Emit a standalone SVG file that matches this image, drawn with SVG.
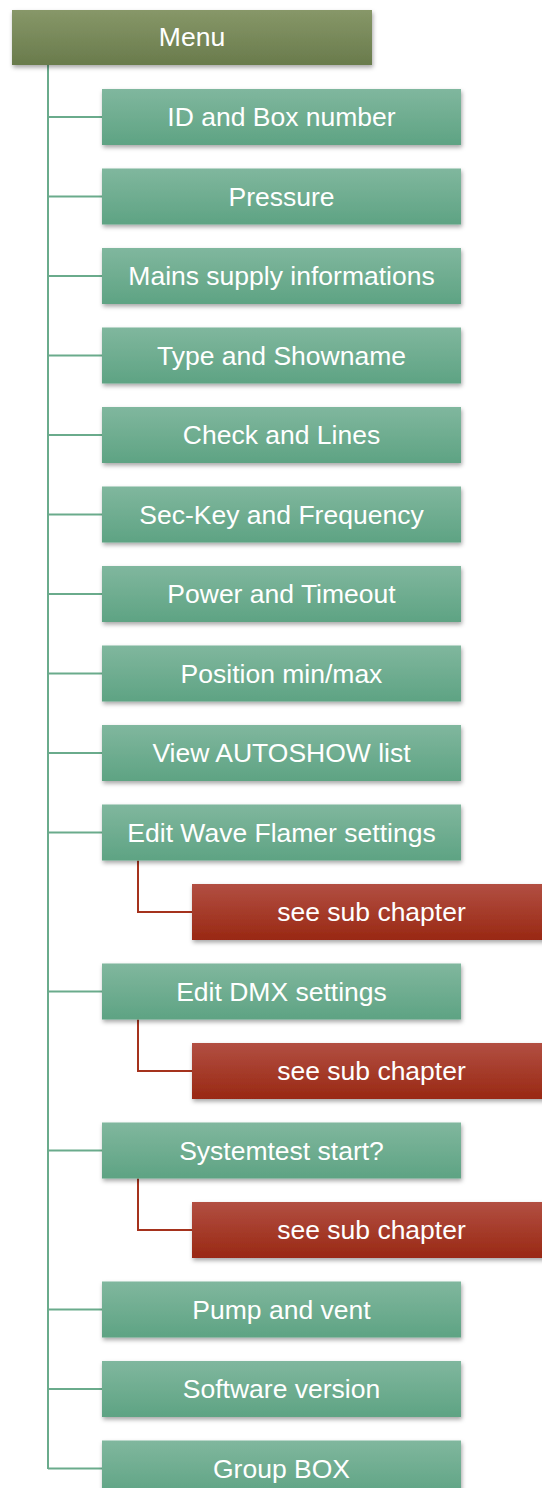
<svg xmlns="http://www.w3.org/2000/svg" width="542" height="1488" viewBox="0 0 542 1488">
<defs>
<linearGradient id="gMenu" x1="0" y1="0" x2="0" y2="1"><stop offset="0" stop-color="#879768"/><stop offset="1" stop-color="#697b4c"/></linearGradient>
<linearGradient id="gGreen" x1="0" y1="0" x2="0" y2="1"><stop offset="0" stop-color="#80b79e"/><stop offset="1" stop-color="#5ea383"/></linearGradient>
<linearGradient id="gRed" x1="0" y1="0" x2="0" y2="1"><stop offset="0" stop-color="#b24f42"/><stop offset="1" stop-color="#992813"/></linearGradient>
<filter id="sh" x="-5%" y="-20%" width="115%" height="160%"><feDropShadow dx="1" dy="2.5" stdDeviation="2" flood-color="#000" flood-opacity="0.35"/></filter>
</defs>
<style>
.t{font-family:"Liberation Sans",Arial,sans-serif;font-size:26.5px;fill:#fff;text-anchor:middle}
.gl{stroke:#6aab8c;stroke-width:2;fill:none}
.rl{stroke:#a5321d;stroke-width:2;fill:none}
</style>
<g id="connectors">
<path class="gl" d="M48 65V1469"/>
<path class="gl" d="M48 117H102M48 196.5H102M48 276H102M48 355.5H102M48 435H102M48 514.5H102M48 594H102M48 673.5H102M48 753H102M48 832.5H102M48 991.5H102M48 1150.5H102M48 1309.5H102M48 1389H102M48 1468.5H102"/>
<path class="rl" d="M138 860.5V912H192M138 1019.5V1071H192M138 1178.5V1230H192"/>
</g>
<g id="menu"><rect x="12" y="10" width="360" height="55" fill="url(#gMenu)" filter="url(#sh)"/><text class="t" x="192" y="46">Menu</text></g>
<g id="n1"><rect x="102" y="89" width="359" height="56" fill="url(#gGreen)" filter="url(#sh)"/><text class="t" x="281.5" y="126">ID and Box number</text></g>
<g id="n2"><rect x="102" y="168.5" width="359" height="56" fill="url(#gGreen)" filter="url(#sh)"/><text class="t" x="281.5" y="205.5">Pressure</text></g>
<g id="n3"><rect x="102" y="248" width="359" height="56" fill="url(#gGreen)" filter="url(#sh)"/><text class="t" x="281.5" y="285">Mains supply informations</text></g>
<g id="n4"><rect x="102" y="327.5" width="359" height="56" fill="url(#gGreen)" filter="url(#sh)"/><text class="t" x="281.5" y="364.5">Type and Showname</text></g>
<g id="n5"><rect x="102" y="407" width="359" height="56" fill="url(#gGreen)" filter="url(#sh)"/><text class="t" x="281.5" y="444">Check and Lines</text></g>
<g id="n6"><rect x="102" y="486.5" width="359" height="56" fill="url(#gGreen)" filter="url(#sh)"/><text class="t" x="281.5" y="523.5">Sec-Key and Frequency</text></g>
<g id="n7"><rect x="102" y="566" width="359" height="56" fill="url(#gGreen)" filter="url(#sh)"/><text class="t" x="281.5" y="603">Power and Timeout</text></g>
<g id="n8"><rect x="102" y="645.5" width="359" height="56" fill="url(#gGreen)" filter="url(#sh)"/><text class="t" x="281.5" y="682.5">Position min/max</text></g>
<g id="n9"><rect x="102" y="725" width="359" height="56" fill="url(#gGreen)" filter="url(#sh)"/><text class="t" x="281.5" y="762">View AUTOSHOW list</text></g>
<g id="n10"><rect x="102" y="804.5" width="359" height="56" fill="url(#gGreen)" filter="url(#sh)"/><text class="t" x="281.5" y="841.5">Edit Wave Flamer settings</text></g>
<g id="s1"><rect x="192" y="884" width="359" height="56" fill="url(#gRed)" filter="url(#sh)"/><text class="t" x="371.5" y="921">see sub chapter</text></g>
<g id="n11"><rect x="102" y="963.5" width="359" height="56" fill="url(#gGreen)" filter="url(#sh)"/><text class="t" x="281.5" y="1000.5">Edit DMX settings</text></g>
<g id="s2"><rect x="192" y="1043" width="359" height="56" fill="url(#gRed)" filter="url(#sh)"/><text class="t" x="371.5" y="1080">see sub chapter</text></g>
<g id="n12"><rect x="102" y="1122.5" width="359" height="56" fill="url(#gGreen)" filter="url(#sh)"/><text class="t" x="281.5" y="1159.5">Systemtest start?</text></g>
<g id="s3"><rect x="192" y="1202" width="359" height="56" fill="url(#gRed)" filter="url(#sh)"/><text class="t" x="371.5" y="1239">see sub chapter</text></g>
<g id="n13"><rect x="102" y="1281.5" width="359" height="56" fill="url(#gGreen)" filter="url(#sh)"/><text class="t" x="281.5" y="1318.5">Pump and vent</text></g>
<g id="n14"><rect x="102" y="1361" width="359" height="56" fill="url(#gGreen)" filter="url(#sh)"/><text class="t" x="281.5" y="1398">Software version</text></g>
<g id="n15"><rect x="102" y="1440.5" width="359" height="56" fill="url(#gGreen)" filter="url(#sh)"/><text class="t" x="281.5" y="1477.5">Group BOX</text></g>
</svg>
